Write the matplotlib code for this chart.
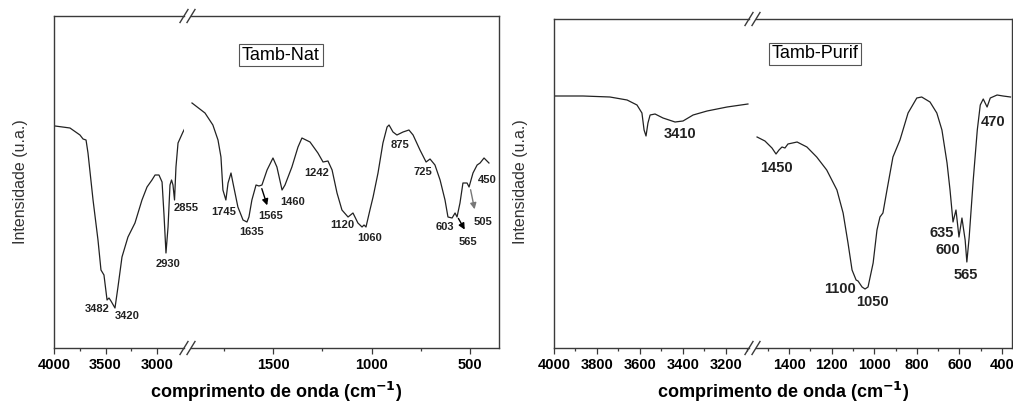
import matplotlib
matplotlib.use("Agg")
import matplotlib.pyplot as plt
from matplotlib.lines import Line2D

plt.rcParams['font.family'] = ['Liberation Sans', 'DejaVu Sans']

# Tamb-Nat spectrum, high wavenumber part (cm-1, intensity a.u.)
nat_hi_wn = [3990, 3845, 3748, 3718, 3689, 3670, 3621, 3573, 3544, 3515, 3485, 3466, 3447, 3408,
             3379, 3340, 3282, 3214, 3146, 3097, 3049, 3019, 2981, 2951, 2932, 2913, 2893, 2874,
             2859, 2845, 2830, 2816, 2796, 2748, 2728]
nat_hi_int = [222, 220, 213, 209, 208, 195, 148, 108, 78, 73, 48, 50, 47, 40,
              61, 91, 111, 125, 148, 161, 168, 173, 173, 166, 133, 95, 121, 163,
              168, 163, 148, 181, 205, 216, 220]

# Tamb-Nat spectrum, low wavenumber part
nat_lo_wn = [1911, 1845, 1805, 1779, 1764, 1754, 1739, 1728, 1713, 1703, 1678, 1652, 1632, 1622,
             1607, 1586, 1571, 1556, 1530, 1500, 1480, 1454, 1439, 1404, 1373, 1353, 1312, 1272,
             1246, 1221, 1200, 1175, 1150, 1119, 1094, 1069, 1048, 1038, 1028, 1008, 992, 967,
             942, 921, 911, 891, 871, 840, 810, 789, 754, 723, 703, 678, 652, 627, 612, 591,
             576, 566, 551, 536, 515, 505, 485, 464, 449, 429, 404]
nat_lo_int = [245, 235, 223, 208, 191, 158, 148, 165, 175, 165, 141, 128, 126, 131,
              148, 163, 162, 163, 178, 190, 181, 158, 163, 181, 201, 210, 206, 195,
              186, 187, 178, 155, 138, 131, 135, 125, 121, 123, 121, 138, 151, 175,
              205, 221, 223, 216, 213, 216, 218, 213, 198, 186, 189, 183, 168, 148, 131, 130,
              135, 131, 145, 165, 165, 161, 175, 183, 185, 190, 185]

# Tamb-Purif spectrum
pur_hi_wn = [3995, 3865, 3740, 3660, 3614, 3591, 3581, 3572, 3563, 3553, 3530, 3493, 3437,
             3400, 3353, 3288, 3195, 3098]
pur_hi_int = [252, 252, 251, 248, 243, 235, 218, 212, 225, 233, 234, 230, 226,
              227, 233, 237, 241, 244]

pur_lo_wn = [1550, 1513, 1480, 1461, 1447, 1433, 1419, 1405, 1362, 1316, 1270, 1223, 1175, 1146,
             1123, 1104, 1085, 1076, 1057, 1043, 1029, 1005, 987, 973, 959, 940, 912, 879,
             841, 800, 777, 738, 706, 682, 658, 644, 630, 616, 602, 588, 573, 565, 554,
             535, 516, 502, 488, 470, 455, 423, 395, 360]
pur_lo_int = [211, 207, 200, 194, 198, 201, 200, 204, 206, 201, 191, 178, 158, 135,
              105, 78, 68, 67, 61, 59, 61, 85, 118, 131, 135, 158, 191, 208,
              235, 250, 251, 246, 235, 218, 185, 158, 126, 138, 111, 130, 108, 86, 111,
              168, 218, 243, 249, 241, 250, 253, 252, 251]

# peak labels: (text, wn, intensity) and which part of the break they sit in
nat_hi_labels = [("3482", 3580, 39), ("3420", 3286, 32), ("2930", 2895, 84), ("2855", 2720, 140)]
nat_lo_labels = [("1745", 1748, 136), ("1635", 1611, 116), ("1565", 1510, 132), ("1460", 1398, 146),
                 ("1242", 1277, 175), ("1120", 1150, 123), ("1060", 1008, 110), ("875", 855, 203),
                 ("725", 739, 176), ("450", 414, 168), ("603", 627, 121), ("565", 510, 106),
                 ("505", 434, 126)]
nat_arrows = [((1561, 162), (1525, 140), 'black'), ((566, 132), (520, 116), 'black'),
              ((500, 161), (474, 136), '#777777')]
pur_hi_labels = [("3410", 3414, 214)]
pur_lo_labels = [("1450", 1461, 180), ("1100", 1161, 59), ("1050", 1010, 46), ("635", 682, 115),
                 ("600", 653, 98), ("565", 569, 73), ("470", 442, 226)]

W, H = 1013, 403
fig = plt.figure(figsize=(W / 100, H / 100), dpi=100)
frame_color = '#3a3a3a'


def px_axes(x0, x1, top, bottom):
    ax = fig.add_axes([x0 / W, 1 - bottom / H, (x1 - x0) / W, (bottom - top) / H])
    ax.set_facecolor('none')
    return ax


def style_axis(ax, xlim, ylim, majors, minors, side, fsize):
    ax.set_xlim(*xlim)
    ax.set_ylim(*ylim)
    ax.set_yticks([])
    ax.set_xticks(majors)
    ax.set_xticks(minors, minor=True)
    ax.tick_params(axis='x', which='major', direction='out', length=4.5, width=0.9,
                   color=frame_color, labelsize=fsize, pad=3)
    ax.tick_params(axis='x', which='minor', direction='out', length=2.3, width=0.9,
                   color=frame_color)
    for lab in ax.get_xticklabels():
        lab.set_fontweight('bold')
    for s in ax.spines.values():
        s.set_color(frame_color)
        s.set_linewidth(1.0)
    ax.spines[side].set_visible(False)


def break_marks(xa, xb, ys):
    for y in ys:
        for x in (xa, xb):
            fig.add_artist(Line2D([(x - 4) / W, (x + 4) / W], [1 - (y + 6.5) / H, 1 - (y - 6.5) / H],
                                  transform=fig.transFigure, color=frame_color, lw=1.0))


def put_labels(ax, labels, fsize):
    for txt, x, y in labels:
        ax.text(x, y, txt, ha='center', va='center', fontsize=fsize, fontweight='bold',
                color='#222222')


# ---- Tamb-Nat ----
ax1 = px_axes(54, 184, 16, 348)
ax2 = px_axes(191, 499, 16, 348)
ax1.plot(nat_hi_wn, nat_hi_int, color='#222222', lw=0.9)
ax2.plot(nat_lo_wn, nat_lo_int, color='#222222', lw=0.9)
style_axis(ax1, (4000, 2738), (0, 332), [4000, 3500, 3000], [3750, 3250], 'right', 10.5)
style_axis(ax2, (1916, 353), (0, 332), [1500, 1000, 500], [1750, 1250, 750], 'left', 10.5)
put_labels(ax1, nat_hi_labels, 8)
put_labels(ax2, nat_lo_labels, 8)
for start, end, col in nat_arrows:
    ax2.annotate("", xy=end, xytext=start,
                 arrowprops=dict(arrowstyle='-|>', color=col, lw=1.0, mutation_scale=9))
break_marks(184, 191, [16, 348])

# ---- Tamb-Purif ----
ax3 = px_axes(554, 749, 19, 348)
ax4 = px_axes(756, 1012, 19, 348)
ax3.plot(pur_hi_wn, pur_hi_int, color='#222222', lw=0.9)
ax4.plot(pur_lo_wn, pur_lo_int, color='#222222', lw=0.9)
style_axis(ax3, (4000, 3093), (0, 329), [4000, 3800, 3600, 3400, 3200], [3900, 3700, 3500, 3300, 3100],
           'right', 10.5)
style_axis(ax4, (1555, 353), (0, 329), [1400, 1200, 1000, 800, 600, 400],
           [1500, 1300, 1100, 900, 700, 500], 'left', 10.5)
put_labels(ax3, pur_hi_labels, 10.5)
put_labels(ax4, pur_lo_labels, 10.5)
break_marks(749, 756, [19, 348])

# panel names
for txt, cx, cy in [("Tamb-Nat", 281, 55), ("Tamb-Purif", 815, 54)]:
    fig.text(cx / W, 1 - cy / H, txt, ha='center', va='center', fontsize=13,
             bbox=dict(boxstyle='square,pad=0.15', facecolor='white', edgecolor='#555555', lw=0.8))

# axis titles
for cx in (276, 783):
    fig.text(cx / W, 1 - 392 / H, "comprimento de onda (cm$^{\\mathbf{-1}}$)", ha='center', va='center',
             fontsize=13, fontweight='bold')
for cx in (20, 520):
    fig.text(cx / W, 1 - 182 / H, "Intensidade (u.a.)", ha='center', va='center', rotation=90,
             fontsize=11.5, color='#333333')

fig.savefig("out.png", dpi=100, facecolor='white')
